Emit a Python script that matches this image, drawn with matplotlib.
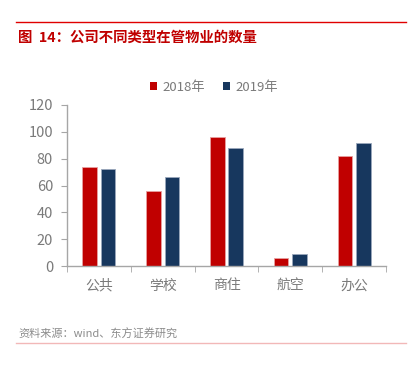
import matplotlib
matplotlib.use("Agg")
import matplotlib.pyplot as plt
import numpy as np
from matplotlib.lines import Line2D

plt.rcParams['font.family'] = ['Noto Sans CJK SC', 'DejaVu Sans']

categories = ["公共", "学校", "商住", "航空", "办公"]
series_names = ["2018年", "2019年"]
values_2018 = [74, 56, 96, 6, 82]
values_2019 = [72, 66, 88, 9, 92]
yticks = [0, 20, 40, 60, 80, 100, 120]

title = "图  14：公司不同类型在管物业的数量"
source = "资料来源：wind、东方证券研究"

red = "#C00000"
navy = "#17375E"
lab = "#7A7A7A"

W, H = 411, 365
fig = plt.figure(figsize=(W / 100, H / 100), dpi=100)

def fx(px):
    return px / W

def fy(py):
    return 1 - py / H

# header line and title
fig.add_artist(Line2D([fx(16), fx(406)], [fy(22), fy(22)], color="#E00000", lw=1.0))
fig.text(fx(18), fy(38), title, color=red, fontsize=10.4, fontweight="bold", va="center", ha="left")
# footer
fig.text(fx(18), fy(334), source, color="#8C8C8C", fontsize=8, va="center", ha="left")
fig.add_artist(Line2D([fx(16), fx(406)], [fy(343), fy(343)], color="#F2B8B8", lw=1.0))

ax = fig.add_axes([fx(67), fy(266), fx(386) - fx(67), fy(105) - fy(266)])
x = np.arange(len(categories))
bw = 0.23
gap = 0.06
ax.bar(x - (bw + gap) / 2, values_2018, bw, color=red, edgecolor="#E8A0A0", linewidth=0.6, label=series_names[0])
ax.bar(x + (bw + gap) / 2, values_2019, bw, color=navy, edgecolor="#9AA8BC", linewidth=0.6, label=series_names[1])

ax.set_xlim(-0.5, len(categories) - 0.5)
ax.set_ylim(0, 120)
ax.set_yticks(yticks)
ax.set_xticks(x)
ax.set_xticklabels(categories)
ax.set_xticks(np.arange(len(categories) + 1) - 0.5, minor=True)
ax.tick_params(axis="x", which="major", length=0, pad=9, labelsize=10, labelcolor=lab)
ax.tick_params(axis="x", which="minor", length=4, color="#A6A6A6", direction="out")
ax.tick_params(axis="y", length=4, color="#A6A6A6", labelsize=10.5, labelcolor=lab, pad=6)
for s in ["top", "right"]:
    ax.spines[s].set_visible(False)
for s in ["left", "bottom"]:
    ax.spines[s].set_color("#A6A6A6")
    ax.spines[s].set_linewidth(1.0)

leg = fig.legend(loc="center", bbox_to_anchor=(fx(214), fy(87)), ncol=2, frameon=False,
                 fontsize=9.5, handlelength=0.5, handleheight=0.5, handletextpad=0.4,
                 columnspacing=1.4, labelcolor=lab)
for h in leg.legend_handles:
    h.set_edgecolor("none")

fig.savefig("out.png", dpi=100)
